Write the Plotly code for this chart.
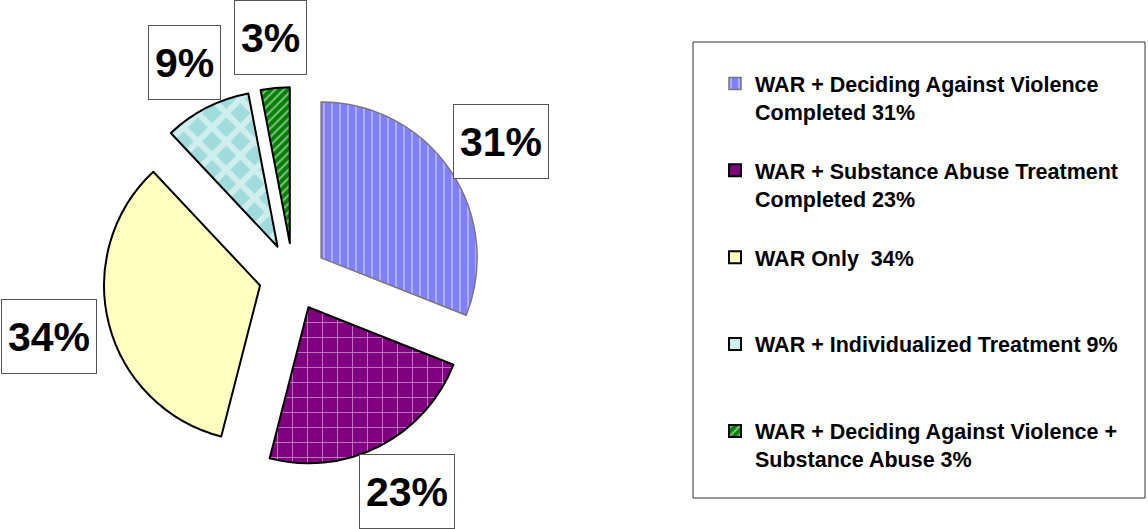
import math
import plotly.graph_objects as go

# dati
labels = [
    "WAR + Deciding Against Violence<br>Completed 31%",
    "WAR + Substance Abuse Treatment<br>Completed 23%",
    "WAR Only\u00a0 34%",
    "WAR + Individualized Treatment 9%",
    "WAR + Deciding Against Violence +<br>Substance Abuse 3%",
]
values = [31, 23, 34, 9, 3]
pct_text = ["31%", "23%", "34%", "9%", "3%"]

colors = ["#8080FF", "#800080", "#FFFFC0", "#A0DCDC", "#008000"]
shapes = ["|", "+", "", "x", "/"]
pattern_sizes = [8, 15, 8, 20, 6]
solidity = [0.18, 0.12, 0.3, 0.5, 0.35]
line_colors = ["#777777", "black", "black", "black", "black"]
line_widths = [1.5, 2, 2, 2, 2]

W, H = 1148, 529
FONT = "Liberation Sans, Arial, sans-serif"

# geometria della torta (pixel)
cx, cy, r, pull = 293, 277, 156, 0.218
half = r * (1 + pull)


def pad_lines(lbl, n=3):
    k = lbl.count("<br>") + 1
    return lbl + "<br>\u00a0" * (n - k)


fig = go.Figure()
fig.add_trace(go.Pie(
    labels=[pad_lines(l) for l in labels],
    values=values,
    sort=False,
    direction="clockwise",
    rotation=0,
    pull=[pull] * len(values),
    textinfo="none",
    hoverinfo="label+percent",
    marker=dict(
        colors=colors,
        line=dict(color=line_colors, width=line_widths),
        pattern=dict(shape=shapes, fgcolor="white", fillmode="overlay",
                     size=pattern_sizes, solidity=solidity),
    ),
    domain=dict(x=[(cx - half) / W, (cx + half) / W],
                y=[(H - cy - half) / H, (H - cy + half) / H]),
))

# etichette percentuali in riquadri: il riquadro tocca il raggio medio
# della fetta, appena fuori dal bordo esterno
total = sum(values)
cum = 0
R0 = 203
box_h = 75
for v, t in zip(values, pct_text):
    mid = (cum + v / 2) / total * 2 * math.pi
    cum += v
    box_w = 24 * len(t) + 25
    px = cx + R0 * math.sin(mid) + box_w / 2 * math.sin(mid)
    py = cy - R0 * math.cos(mid) - box_h / 2 * math.cos(mid)
    fig.add_annotation(
        x=px / W, y=1 - py / H, xref="paper", yref="paper",
        xanchor="center", yanchor="middle",
        text=t, showarrow=False,
        font=dict(family=FONT, size=41, color="black", weight="bold"),
        bordercolor="#555555", borderwidth=1, borderpad=6,
        bgcolor="white", height=box_h - 14, valign="middle",
    )

# cornice della legenda
fig.add_shape(type="rect", xref="paper", yref="paper",
              x0=693 / W, x1=1145 / W, y0=1 - 498 / H, y1=1 - 42 / H,
              line=dict(color="#333333", width=1), fillcolor="rgba(0,0,0,0)")

fig.update_layout(
    width=W, height=H,
    margin=dict(l=0, r=0, t=0, b=0),
    paper_bgcolor="white",
    plot_bgcolor="white",
    showlegend=True,
    legend=dict(
        x=715 / W, y=1 - 63 / H, xanchor="left", yanchor="top",
        font=dict(family=FONT, size=21.5, color="black", weight="bold"),
        valign="top", itemwidth=30, bgcolor="rgba(0,0,0,0)", borderwidth=0,
    ),
)

fig.write_html("out.html", config={"displayModeBar": False},
               post_script="document.body.style.margin='0';")
